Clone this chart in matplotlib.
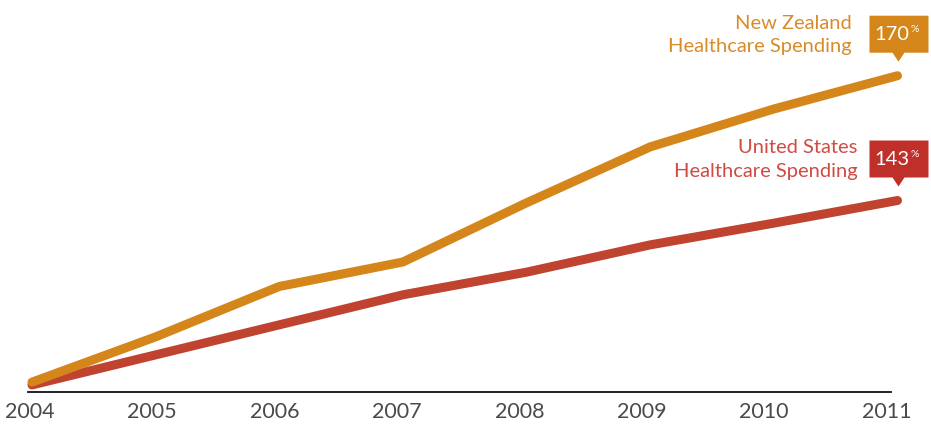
import matplotlib.pyplot as plt
from matplotlib.patches import Polygon
from matplotlib.transforms import ScaledTranslation

years = [2004, 2005, 2006, 2007, 2008, 2009, 2010, 2011]
nz_spend = [103.7, 113.5, 124.4, 129.7, 142.5, 154.6, 162.8, 170]
us_spend = [103.1, 109.6, 116.1, 122.6, 127.5, 133.4, 138.1, 143]
nz_label = "New Zealand\nHealthcare Spending"
us_label = "United States\nHealthcare Spending"

ORANGE = "#D4861A"
RED = "#C0432F"
FONT = ["Lato", "DejaVu Sans"]

fig = plt.figure(figsize=(9.31, 4.26), dpi=100)
ax = fig.add_axes([28.5 / 931, 34 / 426, 902.5 / 931, 392 / 426])

ax.plot(years, us_spend, color=RED, lw=6.5, solid_capstyle="round",
        solid_joinstyle="round", clip_on=False, zorder=3)
ax.plot(years, nz_spend, color=ORANGE, lw=6.5, solid_capstyle="round",
        solid_joinstyle="round", clip_on=False, zorder=4)

for s in ["top", "right", "left"]:
    ax.spines[s].set_visible(False)
ax.spines["bottom"].set_color("#111111")
ax.spines["bottom"].set_linewidth(1.3)
ax.spines["bottom"].set_bounds(2003.972, 2010.947)
ax.set_yticks([])
ax.set_xticks(years)
ax.set_xticklabels([str(y) for y in years], fontsize=15.5, color="#4a4a4a",
                   family=FONT)
ax.tick_params(axis="x", length=0, pad=7)
for i, lbl in enumerate(ax.get_xticklabels()):
    shift = -(2 + 1.3 * i) / 100
    lbl.set_transform(lbl.get_transform() +
                      ScaledTranslation(shift, 0, fig.dpi_scale_trans))

ax.set_xlim(2003.972, 2011.271)
ax.set_ylim(101.57, 186.38)


def callout(x, y, value, text, color, text_color, text_dx):
    # box with a small pointer, positioned in pixel offsets from the data point
    trans = fig.dpi_scale_trans + ScaledTranslation(x, y, ax.transData)
    px = lambda pts: [(a / 100, b / 100) for a, b in pts]
    box = Polygon(px([(-28, 23), (-5, 23), (1, 14), (7, 23), (31, 23),
                      (31, 60), (-28, 60)]),
                  closed=True, facecolor=color, edgecolor="none",
                  transform=trans, clip_on=False, zorder=5)
    ax.add_patch(box)
    ax.text(12 / 100, 41 / 100, str(value), transform=trans, ha="right",
            va="center", color="white", fontsize=14.5, family=FONT, zorder=6)
    ax.text(13 / 100, 46 / 100, "%", transform=trans, ha="left",
            va="center", color="white", fontsize=7.5, family=FONT, zorder=6)
    ax.text(text_dx / 100, 41 / 100, text, transform=trans, ha="right",
            va="center", color=text_color, fontsize=14.5, family=FONT,
            linespacing=1.45, zorder=6)


callout(years[-1], nz_spend[-1], 170, nz_label, ORANGE, "#D98B2B", -46)
callout(years[-1], us_spend[-1], 143, us_label, "#C0302A", "#D14A43", -40)

fig.savefig("out.png", dpi=100)
